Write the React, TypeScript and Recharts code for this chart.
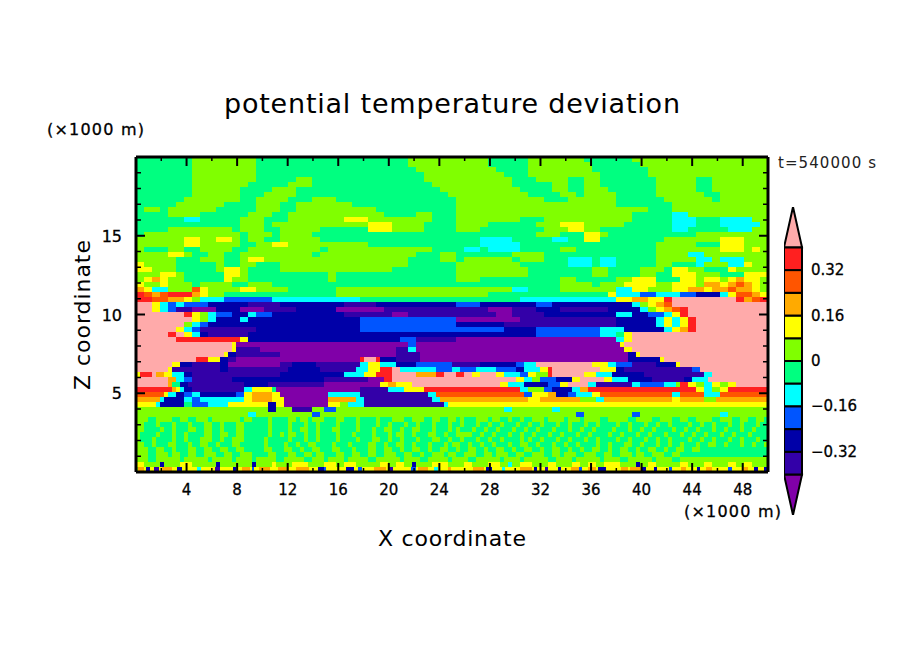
import React from "react";
import { BarChart, Bar, ScatterChart, Scatter, XAxis, YAxis } from "recharts";

// contour levels, low to high, with the mid value of each band
const levelCodes = ["p", "i", "n", "b", "c", "g", "l", "y", "o", "d", "r", "k"];
const levelValues = [-0.44, -0.36, -0.28, -0.2, -0.12, -0.04, 0.04, 0.12, 0.2, 0.28, 0.36, 0.44];
const levelColors = ["#8000a8", "#3300a8", "#0000a8", "#0055ff", "#00ffff", "#00ff80", "#80ff00", "#ffff00", "#ffaa00", "#ff5500", "#ff2020", "#ffaaaa"];

const xTicks = [2, 4, 6, 8, 10, 12, 14, 16, 18, 20, 22, 24, 26, 28, 30, 32, 34, 36, 38, 40, 42, 44, 46, 48];
const zTicks = [1, 2, 3, 4, 5, 6, 7, 8, 9, 10, 11, 12, 13, 14, 15, 16, 17, 18, 19];
const colorbarTicks = [-0.32, -0.16, 0, 0.16, 0.32];
const frameCorners = [{ x: 0, z: 0 }, { x: 50, z: 20 }];

// run-length rows of the field, read top to bottom (run length in grid columns, then level)
const upperRows = [
  "7g8l19g10l5g7l6g17l",
  "7g8l19g10l5g8l6g16l",
  "7g8l20g10l4g8l7g15l",
  "7g8l21g10l3g9l6g15l",
  "7g8l5g2l14g11l3g4l2g2l7g5l2g7l",
  "7g7l5g3l15g10l5g2l2g2l7g5l2g7l",
  "7g6l4g3l18g10l4g2l2g3l6g5l2g7l",
  "7g6l3g4l19g10l4g2l1g4l5g6l2g6l",
  "6g7l2g4l3g3l15g11l3g6l6g6l1g6l",
  "5g6l4g3l2g7l13g20l7g12l",
  "1g2l1g6l5g3l2g10l10g24l3g12l",
  "4g4l6g3l2g12l4g2l3g22l5g2c10l",
  "6g2c5g3l3g7l3y8l3g8l3g11l5g3c3g4c2l",
  "13g3l1g12l3y4l4g4l6g3l3y5l6g3c3g5c1l",
  "4g8l1g3l2g5l6g3y4l4g3l8g3l2y2l9g2c5g3c2l",
  "1g12l1g3l1g4l18g10g3l3g2y1l11g9l",
  "6l2y2l2y1l1g2l2g5l17g3g4c5g2c2g2y8g7l3y3l",
  "6l2y5l2g2l2y10l11g3g5c17g5l3g3y3l",
  "1l3g2l2g4l2g9l1g13l3g1g2c1g4c5g2l10g8l3y1l1y1l",
  "4l2y1l2g2l2g9l1g12l3g2l7g4l14g4l2c8l",
  "5l3g3l2g1l2y2l16l4g2l1g6l1g3l3g3c1g2c5g5l2c1l3c3l",
  "1y4l5g1l2g2l3g16l6g8l6g3c1g2c5g2l3g1c3l2c1y2l",
  "2y3l5g1l2y1l4g14l8g9l8g2l4g3l1g2y2l3g1y4l",
  "3l2y1l5g2y1l10g1l15g9l8g2l4g2l2g3y3l3g3y",
  "1l1y1o1y2l5g1y2l10g1l15g3l10g2l5g2l3y3g2y1l2y1l1y1o2y1l",
  "1y2l1y3l1g4l2g3l23g13g4l1g3l4y2l1y2y1l2o1y1o1d1o1y1l",
  "1o1y2c3l1d1y4l2y4l6g15l7l2c4g7l2c2y3l2y2o1y2o1d2o1y1l",
  "1r1d1o1d3r1o1y2l14g15l4l15g1y3c2b3c2b3n1c1y2d1o1y",
  "2r2d2o1y1l3c6b11c12g8g12c2y2o2y1r8k1r1o1d1r",
  "2k1y1c1b1c3b5n4i8n4i10n3b7n2b10n1c1l1y1o1d12k",
  "2k1y1c1b2i3p3n3p4i5n6p9i4i3p3i3n6i4n1c1l1y1o1d1r10k",
  "6k1r1y1l1c2b2n1c2b9n6i2p6i5i2p4i8n1n2c2n2b1c1y1r10k",
];

const middleRows = [
  "7k1y1l1c3n1c14n12b8p12i5n1c1y1c1y1r9k",
  "6k1l1c1b19n12b6n14i5n1c1y1c1y1r9k",
  "5k1y1c1b3i4i13n12b6b4n8b3c5n1c1y1o1r9k",
  "4k1r1k1y1c1n5i14n12n10n8b2c1g1y17k",
  "5k8r1y19n2b5i20p1c1y17k",
  "12k.5y21.5p1b4.5p21p.5y18k",
  "12k.5y3i17p1.5i1c4.5p21.5p1y17k",
  "11k.5y1n5.5i14.5p3i4p22p1n.5y16k",
  "7.5k1.5r1.5y1n1i4p11.5p.5r1.5k.5r2n3i4p22p4n.5y13k",
  "4.5k1y1.5n3.5i1n6.5p1.5i3n5.5i1c1.5y2c2.5n4.5b3.5i4.5n1b1.5c7k2y1c2b3i2.5n.5y10.5k",
  "4k.5y6i1n7.5i4n4.5i1.5c1.5y1.5r1k2c2.5c2b1c2b2.5c2.5b1n2c1y.5r6k2y1n2i6.5i1b8.5k",
  ".5y1.5r.5k1o1y1.5c1n11i8n2.5c1.5y2r3k2.5o1r1k.5k1r1k1y2k1y2c1b1y1.5l.5r4k1.5y2c4n7.5i1c7k",
  "4k1o1c1b5i7n4.5n5.5i2p1r7.5k8k1y1c1l2b2n1y3k1y2c3n4i1n2c7.5k",
  "4k.5o1g1n7i3n7i7p1y1o2y3k8k1y2c3n1.5b1y2.5k1c4.5i1c3b1.5c.5l1r1y1l1c1y1l1y1.5k",
  "4.5r.5o.5y.5c1n6.5i1c2.5y.5g10.5p3.5i2c2.5y3.5r8.5r1c2l1b2.5n1c1o13.5r1y1c1l1y5r",
  "3.5d.5y1c1n1b1c4.5n1b1y2.5o1y6p4c2i6.5i1c2d9d1b2y1o1.5n1b2c1y9d1c3d2c6d",
  "3o.5c2.5n1c1b2c3.5c1y2.5o1.5y5.5p3.5o1c8.5i1c1.5o9.5o1.5y5o2l1c8.5o1y3o1.5l6.5o",
  "2.5y.5c3n1g2b2.5c5y1n1y5.5p1.5y1l2c10i.5c.5y39.5y",
  "16.5l1n2l2.5i1.5l1.5b21l1c5l1c26l",
  "14l1c7l1b32l1b6l1b10l1c5l",
];

// the mottled layer near the ground, streaks run nearly upright
const groundRows = [
  "1.5l1g2l1g1l1g1.5l.5g3.5l.5g1l2g.5l2g1l.5g1l.5g1.5l1.5g1l1.5g.5l2g.5l1.5g1.5l1g1.5l1g1l1g1l.5g.5l1.5g1.5l.5g1l1g.5l1g.5l1g1.5l.5g2l.5g1.5l.5g2l1g2.5l1g2l1g1.5l1g1l1g2l1g1.5l1g1l1g1l1g",
  "1l1.5g.5l1.5g.5l1.5g.5l1.5g1l1g.5l1.5g1l3g.5l2g.5l1.5g.5l1g.5l2g.5l2g.5l2g.5l1g.5l1.5g.5l1g.5l1.5g.5l1.5g.5l1g.5l1.5g.5l1g.5l1g.5l1.5g.5l1g.5l1g.5l1.5g.5l1g.5l1.5g.5l1g.5l2g.5l1g.5l1.5g.5l1g.5l1g.5l2g.5l1g.5l1g.5l1.5g.5l1g.5l1.5g.5l1g",
  "1l2g.5l1g.5l1.5g1l1g1l1g.5l1.5g1l3g.5l2g.5l1g1l1g.5l1.5g1l2g.5l1.5g.5l1g1l1g.5l1g1l1.5g.5l1.5g.5l.5g.5l1.5g.5l1g.5l1g.5l1.5g.5l1g.5l1g.5l1.5g.5l1.5g.5l1g.5l1g.5l2g.5l1.5g.5l1g.5l1g.5l2g.5l1g.5l1g.5l1.5g.5l1g.5l1.5g.5l1g.5l1g",
  ".5l2g.5l1.5g.5l1g.5l2g1l1g1l1g1l3g.5l1g.5l.5g1l1g.5l1g.5l2g.5l1.5g.5l2g.5l1.5g.5l.5g1l1g.5l1.5g1l1g.5l1g.5l1.5l1g.5l1g.5l1.5g.5l1g.5l1g.5l1.5g.5l1g.5l1.5g.5l1g.5l2g.5l1g.5l1.5g.5l1g.5l1.5g.5l1.5g.5l1g.5l1g.5l1.5g.5l1g.5l1.5g.5l1g",
  ".5l1.5g.5l2g.5l1g.5l1.5g1.5l1g.5l1g1.5l2.5g.5l2.5g.5l1.5g.5l1g.5l2g.5l2g.5l1.5g1l1g.5l1g.5l1.5g.5l1.5g1l1g.5l1g.5l1.5g.5l1g.5l1g.5l2g.5l.5g.5l1g.5l1.5g.5l1g.5l1.5g.5l1g.5l2g.5l1g.5l1.5g.5l1g.5l1g.5l2g.5l1g.5l1g.5l1.5g.5l1g.5l1.5g.5l1g",
  "1l1g.5l1.5g1l1.5g.5l1g1l1g.5l1.5g1l3g.5l2g.5l1g.5l1g1l2g.5l1.5g.5l2g1l1g.5l1g1l1g.5l1.5g.5l1.5g.5l.5g1l1g.5l1g.5l1g.5l1.5g.5l1g1l1g.5l1.5g.5l1g.5l1g.5l2g.5l1g.5l1.5g1l1g.5l1.5g.5l1g.5l1g.5l1.5g.5l1g1l1g.5l1.5g.5l1g.5l1g.5l1g",
  "1.5l1g1l1g.5l1.5g1l1g1l1g1l1g1l2.5g1l1.5g1l1g.5l1g1l1.5g1l1.5g.5l1.5g1l1g1l1g.5l1g1l1g.5l1g1l1g.5l1g1l1g.5l1g1l1g.5l1g1l1g.5l1g1l1g.5l1g.5l1g1l1g.5l1g1l1g.5l1g1l1g.5l1g1l1g1l1g",
  "1.5l1g1.5l.5g1l1g1l1g1.5l1g1l1g1.5l2g1l1.5g1l1g1l.5g1l1.5g1l1g1l1g1l1g1.5l1g1l1g.5l1g1.5l.5g1l1g1.5l1g1l.5g1.5l1g1l1g1.5l1g1l.5g1.5l1g1.5l1g1l1g1.5l.5g1l1g1.5l1g1l1g",
  "1.5l1g3l.5g3l.5g2.5l.5g2l.5g2.5l1g2.5l1g1.5l.5g2l.5g2.5l1g3l.5g2l1g2.5l.5g2l1g3l.5g2l.5g3l1g2l.5g3l.5g2l1g3l.5g2l1g2.5l",
  "1y2l.5n2l1.5y3l.5n4l.5n2l.5y2l2y2l1.5y1l1.5y3l1y1l1y1l.5n2l2y2l1y2l1.5y1l.5c1l1.5y2l1y2l1y1l1y1l2y2l.5n1l1y3l1y2l1y2l1y1l1y2l2y2l1y1l",
  ".3l.7o.3y.5n.5y.6i.3y1.3o.6y.6n1.9y.5c1.8y.6i1.6y.4n.7y1o.3y.3b.6y1.4o1y1.3o.9y1.6o1.2y.7n.3b2.4y1.1n.5y.4b1.5y1.5o.4y.5i2.3y.6b.2y1.3o.8y.4c1.3y.4o2.7y1.4o.2y.8n1.2y.4c1.9y1.5o.2y.4n1y.4i1.2y.4n1.3y1o.4b.7y1o.2y1.1n1.8y.9o.3y1.5o.5n.9y.4n1.5y.4b1.1y.7o1.3y.4n.7y.8o2y.5b1.2y.8o.8y.4n.8y.4n.7y1o.9y.8o.6y.9n",
];

const COLS = 79;
const fieldRows = [...upperRows, ...middleRows, ...groundRows];

const parseRow = (row: string) => {
  const runs: { start: number; span: number; code: string }[] = [];
  let at = 0;
  for (const m of row.matchAll(/([\d.]+)([a-z])/g)) {
    const span = Math.min(Number(m[1]), COLS - at);
    if (span > 0) runs.push({ start: at, span, code: m[2] });
    at += span;
  }
  if (at < COLS) runs[runs.length - 1].span += COLS - at;
  return runs;
};

const fieldData = fieldRows.flatMap((row, r) =>
  parseRow(row).map((run) => {
    const level = levelCodes.indexOf(run.code);
    return {
      x: ((run.start + run.span / 2) * 50) / COLS,
      z: 20 - ((r + 0.5) * 20) / fieldRows.length,
      value: levelValues[level],
      level,
      span: run.span,
    };
  })
);

// colorbar: one stacked column, end caps are the two out-of-range bands
const barBands = levelCodes.map((code, i) => ({
  code,
  color: levelColors[i],
  low: levelValues[i] < 0,
  cap: i === 0 || i === levelCodes.length - 1,
}));
const colorbarRow: Record<string, number | string> = { name: "levels" };
barBands.forEach((b) => {
  const size = b.cap ? 0.142 : 0.08;
  colorbarRow[b.code] = b.low ? -size : size;
});
const negOrder = barBands.filter((b) => b.low).reverse();
const posOrder = barBands.filter((b) => !b.low);

const PLOT_W = 632;
const PLOT_H = 315;
const CELL_W = PLOT_W / COLS;
const CELL_H = PLOT_H / fieldRows.length;
const font = "'DejaVu Sans', sans-serif";

const FieldCell = (props: any) => {
  const { cx, cy, payload } = props;
  const w = payload.span * CELL_W;
  return (
    <rect
      x={cx - w / 2}
      y={cy - CELL_H / 2}
      width={w}
      height={CELL_H}
      fill={levelColors[payload.level]}
      shapeRendering="crispEdges"
    />
  );
};

const NoMark = () => null;

const HTick = (dir: number, labels: boolean) => (props: any) => {
  const { x, y, payload } = props;
  const major = payload.value % 4 === 0;
  return (
    <g>
      <line x1={x} x2={x} y1={y} y2={y + dir * (major ? 9 : 4)} stroke="#000" strokeWidth={major ? 2 : 1.5} />
      {labels && major && (
        <text x={x} y={y + 23} textAnchor="middle" fontFamily={font} fontSize={15} stroke="#000" strokeWidth={0.3}>
          {payload.value}
        </text>
      )}
    </g>
  );
};

const VTick = (dir: number, labels: boolean) => (props: any) => {
  const { x, y, payload } = props;
  const major = payload.value % 5 === 0;
  return (
    <g>
      <line x1={x} x2={x + dir * (major ? 9 : 5)} y1={y} y2={y} stroke="#000" strokeWidth={major ? 2 : 1.5} />
      {labels && major && (
        <text x={x - 14} y={y + 6} textAnchor="end" fontFamily={font} fontSize={16} stroke="#000" strokeWidth={0.3}>
          {payload.value}
        </text>
      )}
    </g>
  );
};

const BandShape = (props: any) => {
  const { x, y, width, height, fill, cap } = props;
  const top = Math.min(y, y + height);
  const h = Math.abs(height);
  if (cap === "up") {
    const pts = `${x},${top + h} ${x + width / 2},${top} ${x + width},${top + h}`;
    return <polygon points={pts} fill={fill} stroke="#000" strokeWidth={2} />;
  }
  if (cap === "down") {
    const pts = `${x},${top} ${x + width / 2},${top + h} ${x + width},${top}`;
    return <polygon points={pts} fill={fill} stroke="#000" strokeWidth={2} />;
  }
  return <rect x={x} y={top} width={width} height={h} fill={fill} stroke="#000" strokeWidth={2} />;
};

const ColorbarTick = (props: any) => {
  const { x, y, payload } = props;
  const label = payload.value < 0 ? `\u2212${Math.abs(payload.value)}` : `${payload.value}`;
  return (
    <text x={x + 9} y={y + 5} fontFamily={font} fontSize={15} stroke="#000" strokeWidth={0.3}>
      {label}
    </text>
  );
};

const abs = { position: "absolute", left: 0, top: 0 } as const;
const frameLine = { stroke: "#000", strokeWidth: 3 };

export default function App() {
  return (
    <div style={{ ...abs, width: 904, height: 654, background: "#fff", overflow: "hidden" }}>
      <div style={abs}>
        <ScatterChart width={904} height={654} margin={{ top: 157, right: 136, bottom: 182, left: 136 }}>
          <XAxis dataKey="x" type="number" domain={[0, 50]} hide />
          <YAxis dataKey="z" type="number" domain={[0, 20]} hide />
          <Scatter data={fieldData} dataKey="z" shape={FieldCell} isAnimationActive={false} />
        </ScatterChart>
      </div>

      {/* axes go in a second chart so the ticks sit on top of the field */}
      <div style={abs}>
        <ScatterChart width={904} height={654} margin={{ top: 147, right: 126, bottom: 142, left: 96 }}>
          <XAxis xAxisId="bottom" dataKey="x" type="number" domain={[0, 50]} ticks={xTicks} interval={0} height={40} tickSize={0} tickMargin={0} tickLine={false} axisLine={frameLine} tick={HTick(-1, true)} />
          <XAxis xAxisId="top" dataKey="x" orientation="top" type="number" domain={[0, 50]} ticks={xTicks} interval={0} height={10} tickSize={0} tickMargin={0} tickLine={false} axisLine={frameLine} tick={HTick(1, false)} />
          <YAxis yAxisId="left" dataKey="z" type="number" domain={[0, 20]} ticks={zTicks} interval={0} width={40} tickSize={0} tickMargin={0} tickLine={false} axisLine={frameLine} tick={VTick(1, true)} />
          <YAxis yAxisId="right" dataKey="z" orientation="right" type="number" domain={[0, 20]} ticks={zTicks} interval={0} width={10} tickSize={0} tickMargin={0} tickLine={false} axisLine={frameLine} tick={VTick(-1, false)} />
          <Scatter data={frameCorners} dataKey="z" xAxisId="bottom" yAxisId="left" shape={NoMark} isAnimationActive={false} />
          <Scatter data={frameCorners} dataKey="z" xAxisId="top" yAxisId="right" shape={NoMark} isAnimationActive={false} />
        </ScatterChart>
      </div>

      <div style={{ ...abs, left: 784, top: 207 }}>
        <BarChart
          width={78}
          height={308}
          data={[colorbarRow]}
          stackOffset="sign"
          barCategoryGap={0}
          margin={{ top: 0, right: 0, bottom: 0, left: 0 }}
        >
          <XAxis dataKey="name" hide />
          <YAxis orientation="right" type="number" domain={[-0.542, 0.542]} ticks={colorbarTicks} interval={0} width={60} axisLine={false} tickLine={false} tickSize={0} tickMargin={0} tick={ColorbarTick} />
          {[...posOrder, ...negOrder].map((b) => (
            <Bar
              key={b.code}
              dataKey={b.code}
              stackId="bar"
              fill={b.color}
              isAnimationActive={false}
              shape={(p: any) => <BandShape {...p} cap={b.cap ? (b.low ? "down" : "up") : undefined} />}
            />
          ))}
        </BarChart>
      </div>

      <svg width={904} height={654} style={{ ...abs, pointerEvents: "none" }}>
        <g fontFamily={font} fill="#000">
          <text x={224} y={113} fontSize={27} textLength={456} lengthAdjust="spacing">potential temperature deviation</text>
          <text x={47} y={135} fontSize={16} textLength={97} lengthAdjust="spacing" stroke="#000" strokeWidth={0.3}>(×1000 m)</text>
          <text x={684} y={517} fontSize={16} textLength={97} lengthAdjust="spacing" stroke="#000" strokeWidth={0.3}>(×1000 m)</text>
          <text x={778} y={168} fontSize={15} textLength={98} lengthAdjust="spacing" fill="#222">t=540000 s</text>
          <text x={378} y={546} fontSize={22} textLength={148} lengthAdjust="spacing">X coordinate</text>
          <text transform="translate(90,390) rotate(-90)" fontSize={22} textLength={150} lengthAdjust="spacing">Z coordinate</text>
        </g>
      </svg>
    </div>
  );
}
